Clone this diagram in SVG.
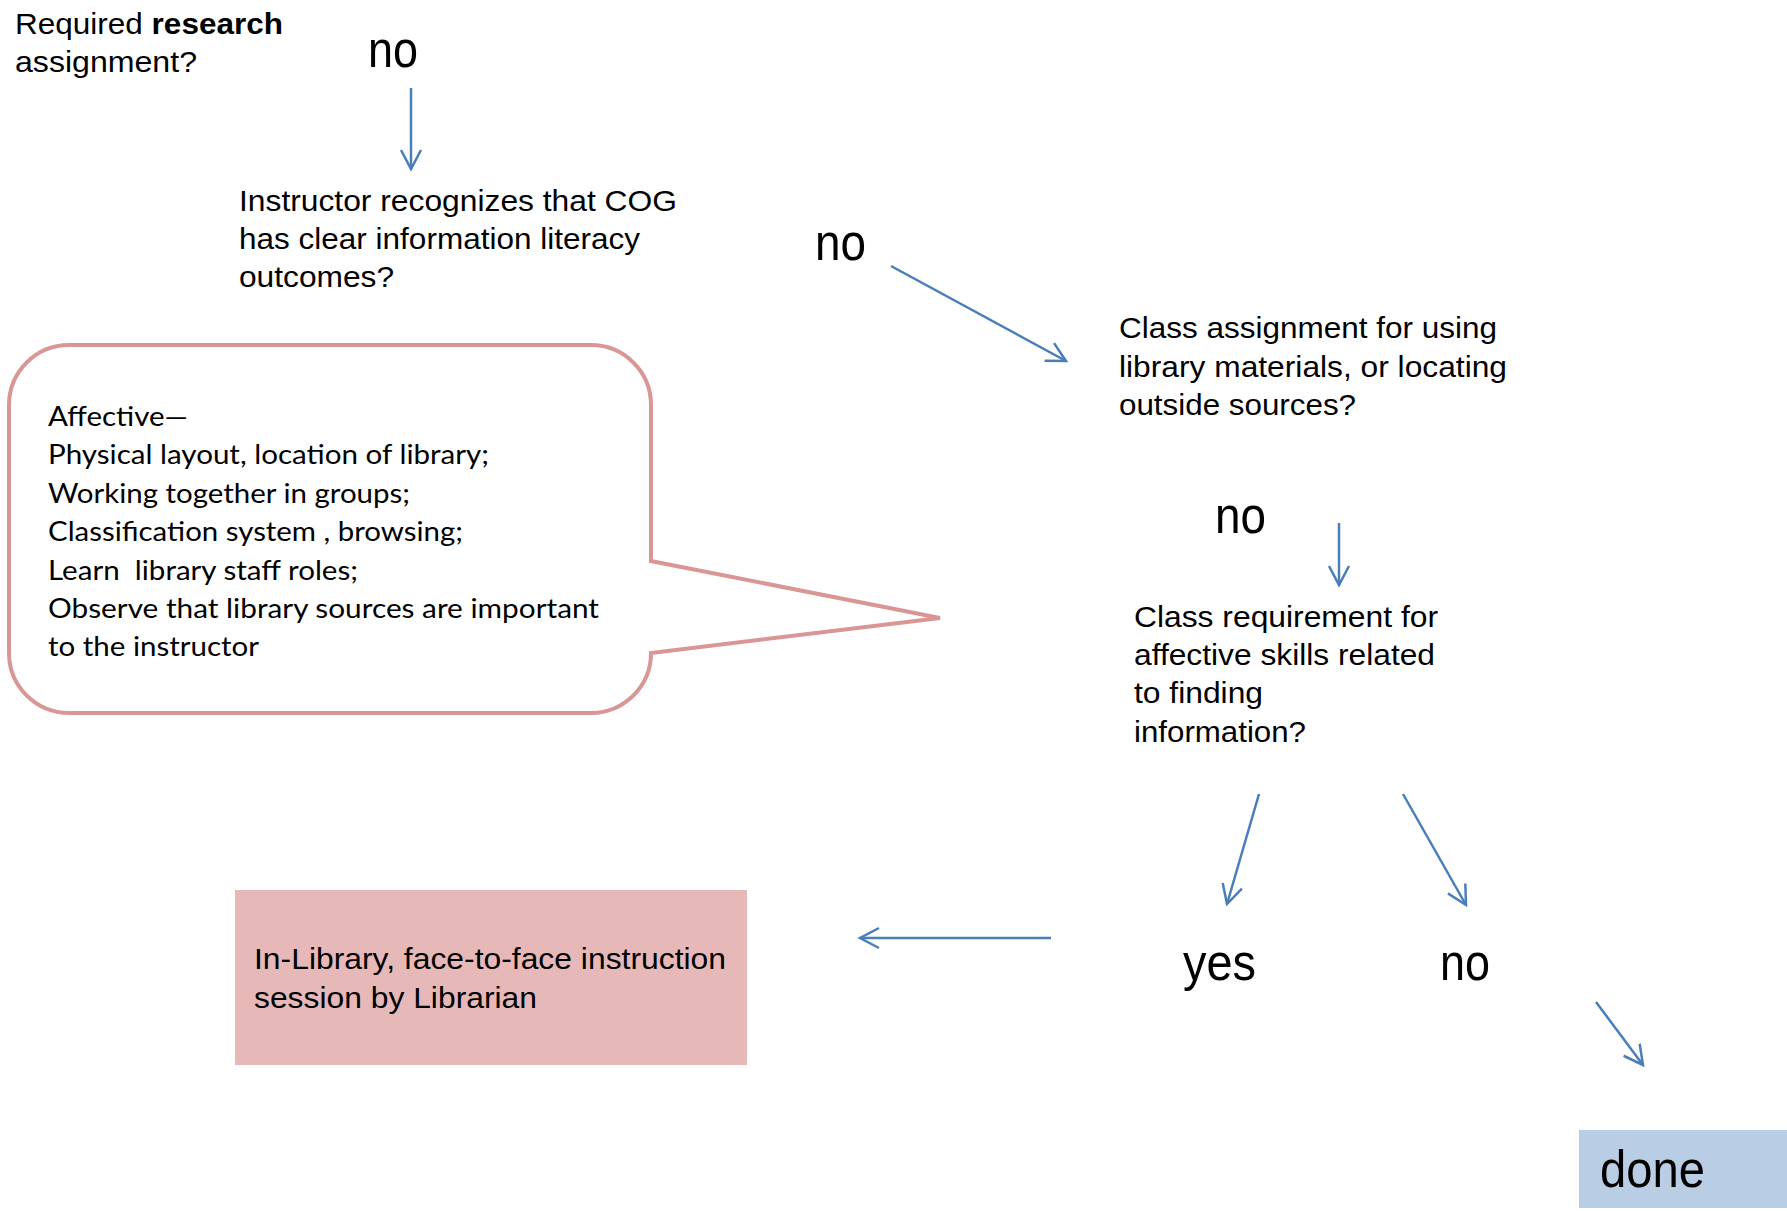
<svg xmlns="http://www.w3.org/2000/svg" width="1787" height="1211" viewBox="0 0 1787 1211">
<style>
.t{font-family:"Liberation Sans",Arial,sans-serif;font-size:30px;fill:#000}
.big{font-family:"Liberation Sans",Arial,sans-serif;font-size:52px;fill:#000}
.c{font-family:Lato,"Open Sans",sans-serif;font-size:26px;fill:#000}
.conn{stroke:#4A7EBB;stroke-width:2.5;fill:none}
</style>
<defs>
<marker id="arr" viewBox="-24 -13 28 26" refX="0" refY="0" markerWidth="28" markerHeight="26" markerUnits="userSpaceOnUse" orient="auto">
<path d="M-19,-10 L0,0 L-19,10" fill="none" stroke="#4A7EBB" stroke-width="2.5"/>
</marker>
</defs>
<rect width="1787" height="1211" fill="#fff"/>

<g id="q1">
<text class="t" x="15" y="34" textLength="268" lengthAdjust="spacingAndGlyphs">Required <tspan font-weight="bold">research</tspan></text>
<text class="t" x="15" y="72" textLength="182" lengthAdjust="spacingAndGlyphs">assignment?</text>
</g>
<g id="no1"><text class="big" x="368" y="67" textLength="50" lengthAdjust="spacingAndGlyphs">no</text></g>

<g id="q2">
<text class="t" x="239" y="211" textLength="438" lengthAdjust="spacingAndGlyphs">Instructor recognizes that COG</text>
<text class="t" x="239" y="249" textLength="401" lengthAdjust="spacingAndGlyphs">has clear information literacy</text>
<text class="t" x="239" y="287" textLength="155" lengthAdjust="spacingAndGlyphs">outcomes?</text>
</g>
<g id="no2"><text class="big" x="815" y="260" textLength="51" lengthAdjust="spacingAndGlyphs">no</text></g>

<g id="q3">
<text class="t" x="1119" y="338" textLength="378" lengthAdjust="spacingAndGlyphs">Class assignment for using</text>
<text class="t" x="1119" y="377" textLength="388" lengthAdjust="spacingAndGlyphs">library materials, or locating</text>
<text class="t" x="1119" y="415" textLength="237" lengthAdjust="spacingAndGlyphs">outside sources?</text>
</g>
<g id="no3"><text class="big" x="1215" y="533" textLength="51" lengthAdjust="spacingAndGlyphs">no</text></g>

<g id="q4">
<text class="t" x="1134" y="627" textLength="304" lengthAdjust="spacingAndGlyphs">Class requirement for</text>
<text class="t" x="1134" y="665" textLength="301" lengthAdjust="spacingAndGlyphs">affective skills related</text>
<text class="t" x="1134" y="703" textLength="129" lengthAdjust="spacingAndGlyphs">to finding</text>
<text class="t" x="1134" y="742" textLength="172" lengthAdjust="spacingAndGlyphs">information?</text>
</g>

<g id="callout">
<path d="M69,345 H591 A60,60 0 0 1 651,405 V561 L940,618 L651,653 A60,60 0 0 1 591,713 H69 A60,60 0 0 1 9,653 V405 A60,60 0 0 1 69,345 Z" fill="#fff" stroke="#D99694" stroke-width="4"/>
<text class="c" x="48" y="426" textLength="140" lengthAdjust="spacingAndGlyphs">Affective—</text>
<text class="c" x="48" y="464" textLength="441" lengthAdjust="spacingAndGlyphs">Physical layout, location of library;</text>
<text class="c" x="48" y="503" textLength="362" lengthAdjust="spacingAndGlyphs">Working together in groups;</text>
<text class="c" x="48" y="541" textLength="415" lengthAdjust="spacingAndGlyphs">Classification system , browsing;</text>
<text class="c" x="48" y="580" textLength="310" lengthAdjust="spacingAndGlyphs" xml:space="preserve">Learn  library staff roles;</text>
<text class="c" x="48" y="618" textLength="551" lengthAdjust="spacingAndGlyphs">Observe that library sources are important</text>
<text class="c" x="48" y="656" textLength="211" lengthAdjust="spacingAndGlyphs">to the instructor</text>
</g>

<g id="session">
<rect x="235" y="890" width="512" height="175" fill="#E6B9B8"/>
<text class="t" x="254" y="969" textLength="472" lengthAdjust="spacingAndGlyphs">In-Library, face-to-face instruction</text>
<text class="t" x="254" y="1008" textLength="283" lengthAdjust="spacingAndGlyphs">session by Librarian</text>
</g>

<g id="yes"><text class="big" x="1183" y="980" textLength="73" lengthAdjust="spacingAndGlyphs">yes</text></g>
<g id="no4"><text class="big" x="1440" y="980" textLength="50" lengthAdjust="spacingAndGlyphs">no</text></g>

<g id="done">
<rect x="1579" y="1130" width="208" height="78" fill="#B9CDE5"/>
<text class="big" x="1600" y="1187" font-size="46" textLength="105" lengthAdjust="spacingAndGlyphs">done</text>
</g>

<g id="connectors">
<line class="conn" x1="411" y1="88" x2="411" y2="169" marker-end="url(#arr)"/>
<line class="conn" x1="891" y1="266" x2="1066" y2="361" marker-end="url(#arr)"/>
<line class="conn" x1="1339" y1="523" x2="1339" y2="585" marker-end="url(#arr)"/>
<line class="conn" x1="1259" y1="794" x2="1227" y2="904" marker-end="url(#arr)"/>
<line class="conn" x1="1403" y1="794" x2="1466" y2="905" marker-end="url(#arr)"/>
<line class="conn" x1="1051" y1="938" x2="860" y2="938" marker-end="url(#arr)"/>
<line class="conn" x1="1596" y1="1002" x2="1643" y2="1065" marker-end="url(#arr)"/>
</g>
</svg>
